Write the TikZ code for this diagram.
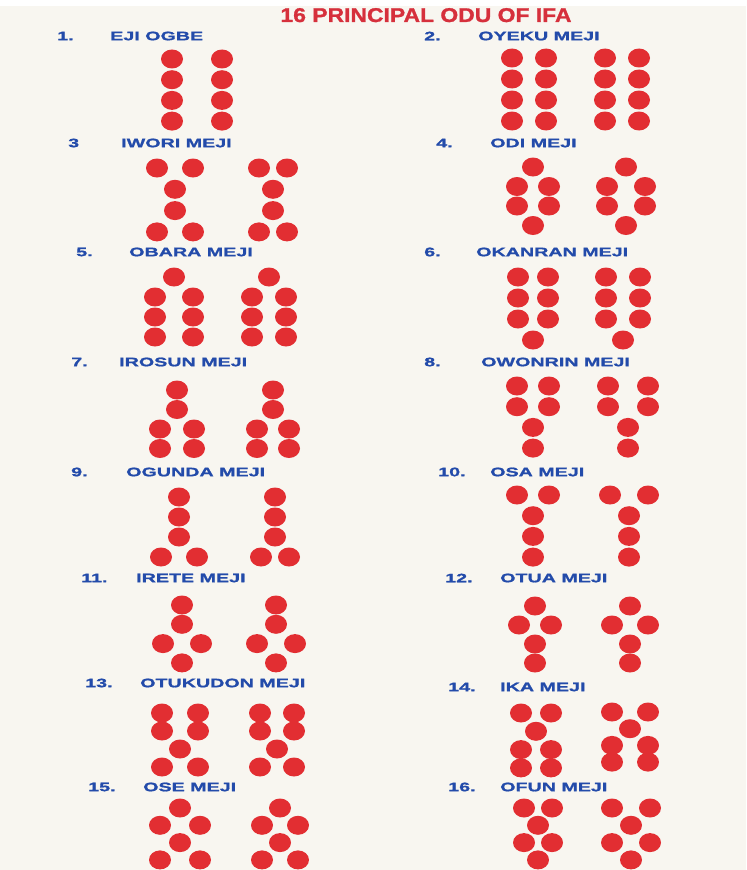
\documentclass[tikz,border=0pt]{standalone}
\usepackage{fontspec}
\newfontfamily\odulabel[FakeStretch=1.6,FakeBold=1.2]{Liberation Sans Bold}
\newfontfamily\odutitle[FakeStretch=1.15,FakeBold=1.2]{Liberation Sans Bold}

\definecolor{paper}{RGB}{248,246,240}
\definecolor{beadred}{RGB}{226,46,50}
\definecolor{titlered}{RGB}{214,48,60}
\definecolor{labelblue}{RGB}{35,75,170}

% one column of an odu: x, top y, half pair gap, row step, marks (1 or 2 per row)
\newcommand{\odukol}[5]{%
  \foreach \m [count=\r from 0] in {#5} {
    \ifnum\m=1
      \fill[bead] (#1, #2+\r*#4) ellipse (11 and 9.5);
    \else
      \fill[bead] (#1-#3, #2+\r*#4) ellipse (11 and 9.5);
      \fill[bead] (#1+#3, #2+\r*#4) ellipse (11 and 9.5);
    \fi
  }%
}

\begin{document}
\begin{tikzpicture}[x=0.03cm, y=-0.03cm,
    bead/.style={fill=beadred},
    nr/.style={anchor=west, inner sep=0pt, text=labelblue, font=\odulabel\fontsize{10.5}{12}\selectfont},
    odunaam/.style={nr}]
    \useasboundingbox (0,0) rectangle (746,870);
    \fill[paper] (0,0) rectangle (746,870);
    \fill[white] (0,0) rectangle (746,6);

    % --- TYTUL ---
    \node[anchor=base, inner sep=0pt, text=titlered, font=\odutitle\fontsize{17}{19}\selectfont]
        (tytul) at (426,22) {16 PRINCIPAL ODU OF IFA};

    % --- ETYKIETY ---
    \node[nr] (n1) at (57,36) {1.};      \node[odunaam] (o1) at (110,36) {EJI OGBE};
    \node[nr] (n2) at (424,36) {2.};     \node[odunaam] (o2) at (478,36) {OYEKU MEJI};
    \node[nr] (n3) at (68,143) {3};      \node[odunaam] (o3) at (121,143) {IWORI MEJI};
    \node[nr] (n4) at (436,143) {4.};    \node[odunaam] (o4) at (490,143) {ODI MEJI};
    \node[nr] (n5) at (76,252) {5.};     \node[odunaam] (o5) at (129,252) {OBARA MEJI};
    \node[nr] (n6) at (424,252) {6.};    \node[odunaam] (o6) at (476,252) {OKANRAN MEJI};
    \node[nr] (n7) at (71,362) {7.};     \node[odunaam] (o7) at (119,362) {IROSUN MEJI};
    \node[nr] (n8) at (424,362) {8.};    \node[odunaam] (o8) at (481,362) {OWONRIN MEJI};
    \node[nr] (n9) at (71,472) {9.};     \node[odunaam] (o9) at (126,472) {OGUNDA MEJI};
    \node[nr] (n10) at (438,472) {10.};  \node[odunaam] (o10) at (490,472) {OSA MEJI};
    \node[nr] (n11) at (81,578) {11.};   \node[odunaam] (o11) at (136,578) {IRETE MEJI};
    \node[nr] (n12) at (445,578) {12.};  \node[odunaam] (o12) at (500,578) {OTUA MEJI};
    \node[nr] (n13) at (85,683) {13.};   \node[odunaam] (o13) at (140,683) {OTUKUDON MEJI};
    \node[nr] (n14) at (448,687) {14.};  \node[odunaam] (o14) at (500,687) {IKA MEJI};
    \node[nr] (n15) at (88,787) {15.};   \node[odunaam] (o15) at (143,787) {OSE MEJI};
    \node[nr] (n16) at (448,787) {16.};  \node[odunaam] (o16) at (500,787) {OFUN MEJI};

    % --- ZNAKI ---
    % 1 i 2
    \odukol{172}{59}{17}{20.7}{1,1,1,1}  \odukol{222}{59}{17}{20.7}{1,1,1,1}
    \odukol{529}{58}{17}{21}{2,2,2,2}    \odukol{622}{58}{17}{21}{2,2,2,2}
    % 3 i 4
    \odukol{175}{168}{18}{21.3}{2,1,1,2} \odukol{273}{168}{14}{21.3}{2,1,1,2}
    \odukol{533}{167}{16}{19.5}{1,2,2,1} \odukol{626}{167}{19}{19.5}{1,2,2,1}
    % 5 i 6
    \odukol{174}{277}{19}{20}{1,2,2,2}   \odukol{269}{277}{17}{20}{1,2,2,2}
    \odukol{533}{277}{15}{21}{2,2,2,1}   \odukol{623}{277}{17}{21}{2,2,2,1}
    % 7 i 8
    \odukol{177}{390}{17}{19.5}{1,1,2,2} \odukol{273}{390}{16}{19.5}{1,1,2,2}
    \odukol{533}{386}{16}{20.7}{2,2,1,1} \odukol{628}{386}{20}{20.7}{2,2,1,1}
    % 9 i 10
    \odukol{179}{497}{18}{20}{1,1,1,2}   \odukol{275}{497}{14}{20}{1,1,1,2}
    \odukol{533}{495}{16}{20.7}{2,1,1,1} \odukol{629}{495}{19}{20.7}{2,1,1,1}
    % 11 i 12
    \odukol{182}{605}{19}{19.3}{1,1,2,1} \odukol{276}{605}{19}{19.3}{1,1,2,1}
    \odukol{535}{606}{16}{19}{1,2,1,1}   \odukol{630}{606}{18}{19}{1,2,1,1}
    % 13 i 14
    \odukol{180}{713}{18}{18}{2,2,1,2}   \odukol{277}{713}{17}{18}{2,2,1,2}
    \odukol{536}{713}{15}{18.3}{2,1,2,2} \odukol{630}{712}{18}{16.7}{2,1,2,2}
    % 15 i 16
    \odukol{180}{808}{20}{17.3}{1,2,1,2} \odukol{280}{808}{18}{17.3}{1,2,1,2}
    \odukol{538}{808}{14}{17.3}{2,1,2,1} \odukol{631}{808}{19}{17.3}{2,1,2,1}
\end{tikzpicture}
\end{document}
